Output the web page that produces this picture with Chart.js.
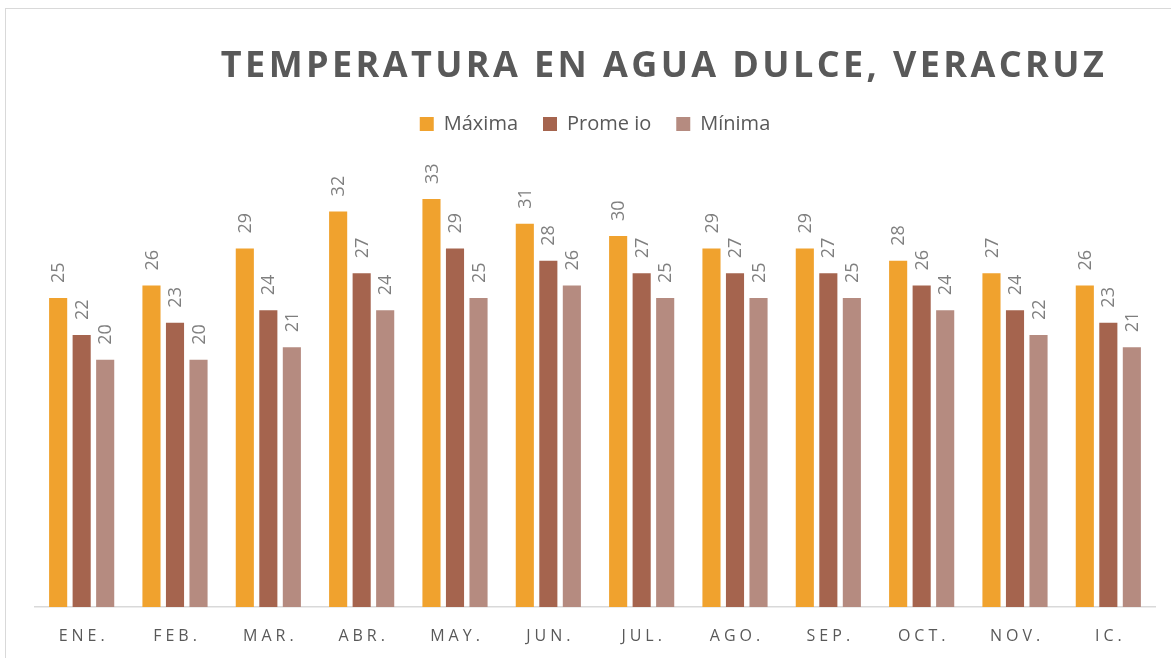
<!DOCTYPE html>
<html>
<head>
<meta charset="utf-8">
<script src="https://cdn.jsdelivr.net/npm/chart.js@4"></script>
<style>
    html, body { margin: 0; padding: 0; background: #fff; overflow: hidden; }
    #wrap { position: relative; width: 1171px; height: 658px; }
    #frame { position: absolute; left: 5px; top: 8px; width: 1200px; height: 700px; border: 1.5px solid #d9d9d9; box-sizing: border-box; }
    canvas { position: absolute; left: 0; top: 0; }
</style>
</head>
<body>
<div id="wrap">
    <div id="frame"></div>
    <canvas id="tempChart" width="1171" height="658"></canvas>
</div>
<script>
const chartTitle = 'TEMPERATURA EN AGUA DULCE, VERACRUZ';
const months = ['ENE.', 'FEB.', 'MAR.', 'ABR.', 'MAY.', 'JUN.', 'JUL.', 'AGO.', 'SEP.', 'OCT.', 'NOV.', 'IC.'];
const maxima = [25, 26, 29, 32, 33, 31, 30, 29, 29, 28, 27, 26];
const promedio = [22, 23, 24, 27, 29, 28, 27, 27, 27, 26, 24, 23];
const minima = [20, 20, 21, 24, 25, 26, 25, 25, 25, 24, 22, 21];
const seriesNames = ['Máxima', 'Prome io', 'Mínima'];

// titulo, etiquetas de datos y meses (con espaciado entre letras)
const textPlugin = {
    id: 'textPlugin',
    afterDraw(chart) {
        const ctx = chart.ctx;
        ctx.save();

        ctx.fillStyle = '#595959';
        ctx.font = 'bold 36px "Open Sans"';
        ctx.letterSpacing = '3.4px';
        ctx.textAlign = 'center';
        ctx.textBaseline = 'middle';
        ctx.fillText(chartTitle, 664, 67);

        ctx.font = '16px "Open Sans"';
        ctx.letterSpacing = '4px';
        ctx.textBaseline = 'middle';
        const xScale = chart.scales.x;
        months.forEach((m, i) => {
            ctx.fillText(m, xScale.getPixelForTick(i) + 2, 636);
        });

        ctx.letterSpacing = '0px';
        ctx.font = '18px "Open Sans"';
        ctx.fillStyle = '#7f7f7f';
        ctx.textAlign = 'left';
        chart.data.datasets.forEach((ds, di) => {
            chart.getDatasetMeta(di).data.forEach((bar, i) => {
                ctx.save();
                ctx.translate(bar.x + 1, bar.y - 15);
                ctx.rotate(-Math.PI / 2);
                ctx.fillText(String(ds.data[i]), 0, 0);
                ctx.restore();
            });
        });
        ctx.restore();
    }
};

new Chart(document.getElementById('tempChart'), {
    type: 'bar',
    data: {
        labels: months,
        datasets: [
            {label: seriesNames[0], data: maxima, backgroundColor: '#F0A22E'},
            {label: seriesNames[1], data: promedio, backgroundColor: '#A5644E'},
            {label: seriesNames[2], data: minima, backgroundColor: '#B58B80'}
        ]
    },
    options: {
        responsive: false,
        animation: false,
        layout: {
            padding: {top: 89, left: 35, right: 16, bottom: 51}
        },
        datasets: {
            bar: {categoryPercentage: 0.756, barPercentage: 0.77}
        },
        plugins: {
            legend: {
                position: 'top',
                labels: {
                    boxWidth: 14,
                    boxHeight: 14,
                    padding: 25,
                    color: '#595959',
                    font: {family: 'Open Sans', size: 20}
                }
            },
            tooltip: {enabled: false}
        },
        scales: {
            x: {
                grid: {display: false, drawTicks: false},
                border: {display: true, color: '#d9d9d9', width: 1.5},
                ticks: {display: false}
            },
            y: {
                display: false,
                min: 0,
                max: 37.45
            }
        }
    },
    plugins: [textPlugin]
});
</script>
</body>
</html>
